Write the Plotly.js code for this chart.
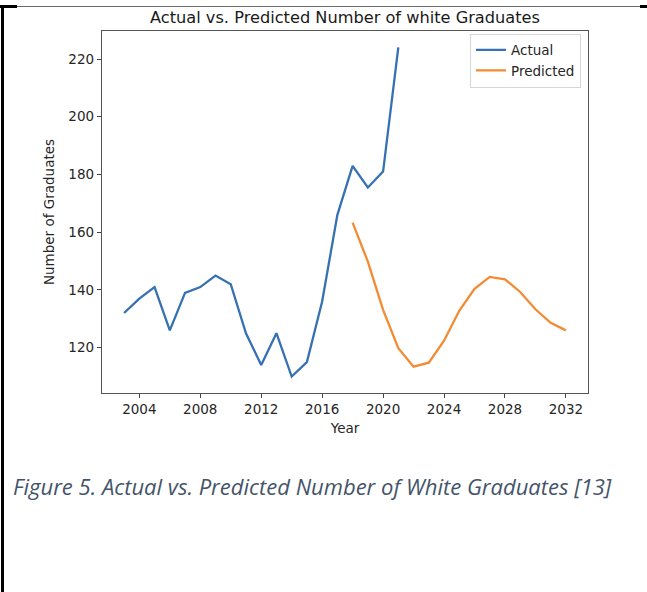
<!DOCTYPE html>
<html>
<head>
<meta charset="utf-8">
<script src="https://cdn.plot.ly/plotly-3.0.1.min.js"></script>
<style>
  html, body { margin: 0; padding: 0; background: #ffffff; }
  #page { position: relative; width: 647px; height: 592px; overflow: hidden; }
  #chart { position: absolute; left: 0; top: 0; width: 647px; height: 592px; }
  .rule { position: absolute; }
  #caption {
    position: absolute; left: 13px; top: 471px;
    font-family: "Open Sans", "Noto Sans", sans-serif; font-style: italic;
    font-size: 22px; line-height: 30px; color: #44546a; white-space: nowrap;
  }
</style>
</head>
<body>
<div id="page">
  <div id="chart"></div>
  <!-- page frame: thin grey rule on top, heavy black corners and left edge -->
  <div class="rule" style="left:0;top:6px;width:647px;height:1px;background:#6b6b6b;"></div>
  <div class="rule" style="left:0;top:5px;width:17px;height:3px;background:#000;"></div>
  <div class="rule" style="left:640px;top:5px;width:7px;height:3px;background:#000;"></div>
  <div class="rule" style="left:1px;top:5px;width:3px;height:587px;background:#000;"></div>
  <div id="caption">Figure 5. Actual vs. Predicted Number of White Graduates [13]</div>
</div>
<script>
// Observed graduate counts
const actualYears = [2003, 2004, 2005, 2006, 2007, 2008, 2009, 2010, 2011, 2012,
                     2013, 2014, 2015, 2016, 2017, 2018, 2019, 2020, 2021];
const actualValues = [132, 137, 141, 126, 139, 141, 145, 142, 125, 114,
                      125, 110, 115, 136, 166, 183, 175.5, 181, 224];

// Model forecast
const predictedYears = [2018, 2019, 2020, 2021, 2022, 2023, 2024, 2025, 2026,
                        2027, 2028, 2029, 2030, 2031, 2032];
const predictedValues = [163.3, 149.8, 133.1, 119.8, 113.4, 114.8, 122.4, 132.8,
                         140.4, 144.5, 143.7, 139.3, 133.3, 128.6, 126];

const xTicks = [2004, 2008, 2012, 2016, 2020, 2024, 2028, 2032];
const yTicks = [120, 140, 160, 180, 200, 220];

const textFont = { family: "DejaVu Sans, sans-serif", size: 13.5, color: "#262626" };

const traces = [
  {
    x: actualYears, y: actualValues, name: "Actual", type: "scatter", mode: "lines",
    line: { color: "#3571b3", width: 2.3 }
  },
  {
    x: predictedYears, y: predictedValues, name: "Predicted", type: "scatter", mode: "lines",
    line: { color: "#f28b33", width: 2.3 }
  }
];

const layout = {
  width: 647, height: 592,
  margin: { l: 102, r: 59, t: 31, b: 199, pad: 0 },
  paper_bgcolor: "rgba(0,0,0,0)", plot_bgcolor: "#ffffff",
  showlegend: true,
  title: {
    text: "Actual vs. Predicted Number of white Graduates",
    font: { family: "DejaVu Sans, sans-serif", size: 16.2, color: "#1a1a1a" },
    x: 0.5, xref: "paper", xanchor: "center",
    y: 1 - 17 / 592, yref: "container", yanchor: "middle"
  },
  xaxis: {
    range: [2001.55, 2033.45], tickvals: xTicks, ticktext: xTicks.map(String),
    ticks: "outside", ticklen: 4, tickwidth: 1, tickcolor: "#444",
    showgrid: false, zeroline: false,
    showline: true, linecolor: "#555", linewidth: 1.2, mirror: true,
    tickfont: textFont,
    title: { text: "Year", font: textFont, standoff: 7 }
  },
  yaxis: {
    range: [104.3, 229.7], tickvals: yTicks, ticktext: yTicks.map(String),
    ticks: "outside", ticklen: 4, tickwidth: 1, tickcolor: "#444",
    showgrid: false, zeroline: false,
    showline: true, linecolor: "#555", linewidth: 1.2, mirror: true,
    tickfont: textFont,
    title: { text: "Number of Graduates", font: textFont, standoff: 10 }
  },
  legend: {
    x: 0.9856, xanchor: "right", y: 0.993, yanchor: "top",
    bgcolor: "#ffffff", bordercolor: "#d6d6d6", borderwidth: 1,
    font: { family: "DejaVu Sans, sans-serif", size: 13.5, color: "#262626" },
    itemwidth: 30, tracegroupgap: 0
  }
};

Plotly.newPlot("chart", traces, layout, { displayModeBar: false, staticPlot: true });
</script>
</body>
</html>
